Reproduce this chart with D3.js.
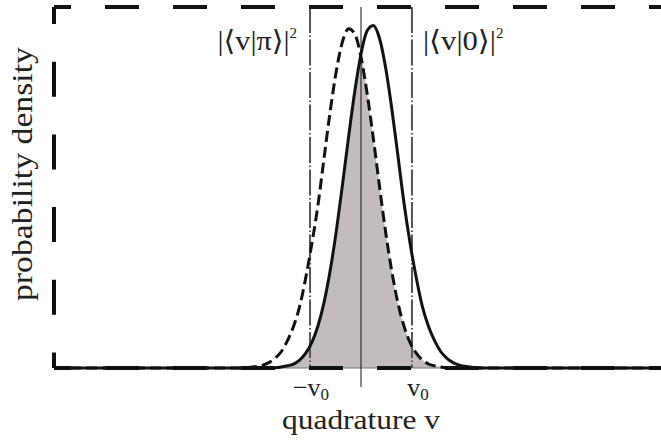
<!DOCTYPE html>
<html>
<head>
<meta charset="utf-8">
<script src="https://cdn.jsdelivr.net/npm/d3@7"></script>
<style>
body { margin: 0; background: #fff; }
svg text { font-family: "Liberation Serif", "DejaVu Serif", serif; fill: #222; }
</style>
</head>
<body>
<svg id="chart" width="661" height="441"></svg>
<script>
// quadrature grid and the two densities
const quadV = [-5, -2, -1.8, -1.6, -1.5, -1.4, -1.3, -1.2, -1.1, -1.0, -0.9, -0.8, -0.7, -0.6, -0.5, -0.4, -0.3, -0.2, -0.1,
    0, 0.1, 0.2, 0.3, 0.4, 0.5, 0.6, 0.7, 0.8, 0.9, 1.0, 1.1, 1.2, 1.3, 1.4, 1.5, 1.6, 1.8, 2, 5]
// |<v|0>|^2  (solid)
const densZero = [0, 0, 0, 0, 0, 0.001, 0.003, 0.006, 0.011, 0.022, 0.041, 0.071, 0.117, 0.183, 0.272, 0.382, 0.510, 0.643, 0.768,
    0.870, 0.934, 0.949, 0.914, 0.833, 0.720, 0.590, 0.457, 0.345, 0.250, 0.170, 0.115, 0.075, 0.045, 0.027, 0.015, 0.008, 0.002, 0, 0]
// |<v|pi>|^2  (dashed)
const densPi = [0, 0, 0.002, 0.008, 0.015, 0.027, 0.045, 0.075, 0.115, 0.170, 0.250, 0.345, 0.452, 0.584, 0.713, 0.825, 0.905, 0.940, 0.925,
    0.861, 0.760, 0.637, 0.505, 0.378, 0.269, 0.181, 0.116, 0.070, 0.041, 0.022, 0.011, 0.006, 0.003, 0.001, 0, 0, 0, 0, 0]
const v0 = 0.83
const xDomain = [-5, 5]
const yDomain = [0, 1]
const xLabel = "quadrature v"
const yLabel = "probability density"

const W = 661, H = 441
const margin = {left: 54, right: -7, top: 7, bottom: 73}

const svg = d3.select("#chart")
const x = d3.scaleLinear().domain(xDomain).range([margin.left, W - margin.right])
const y = d3.scaleLinear().domain(yDomain).range([H - margin.bottom, margin.top])

var rows = quadV.map((v, i) => ({v: v, a: densZero[i], b: densPi[i]}))

// overlap area, min of both densities
var area = d3.area()
    .x(d => x(d.v))
    .y0(y(0))
    .y1(d => y(Math.min(d.a, d.b)))
    .curve(d3.curveMonotoneX)
svg.append("path")
    .datum(rows)
    .attr("d", area)
    .attr("fill", "#c3bcbc")

// thin baseline
svg.append("line")
    .attr("x1", x(xDomain[0])).attr("x2", x(xDomain[1]))
    .attr("y1", y(0)).attr("y2", y(0))
    .attr("stroke", "#777").attr("stroke-width", 1)

// dash-dot cut lines at +-v0
for (let c of [-v0, v0]) {
    svg.append("line")
        .attr("x1", x(c)).attr("x2", x(c))
        .attr("y1", y(yDomain[1])).attr("y2", y(0))
        .attr("stroke", "#555").attr("stroke-width", 2)
        .attr("stroke-dasharray", "26,2.5,1.5,2.5")
}

// centre line
svg.append("line")
    .attr("x1", x(0)).attr("x2", x(0))
    .attr("y1", y(yDomain[1])).attr("y2", y(0) + 19)
    .attr("stroke", "#111").attr("stroke-width", 1)

// dashed frame
var frame = svg.append("g")
    .attr("stroke", "#111").attr("stroke-width", 4).attr("fill", "none")
frame.append("line")
    .attr("x1", x(xDomain[0])).attr("x2", x(xDomain[1]))
    .attr("y1", y(yDomain[1])).attr("y2", y(yDomain[1]))
    .attr("stroke-dasharray", "34,34").attr("stroke-dashoffset", 17)
frame.append("line")
    .attr("x1", x(xDomain[0])).attr("x2", x(xDomain[1]))
    .attr("y1", y(0)).attr("y2", y(0))
    .attr("stroke-dasharray", "34,34").attr("stroke-dashoffset", 17)
frame.append("line")
    .attr("x1", x(xDomain[0])).attr("x2", x(xDomain[0]))
    .attr("y1", y(yDomain[1])).attr("y2", y(0))
    .attr("stroke-dasharray", "35,37.7").attr("stroke-dashoffset", 18)

// curves
var lineB = d3.line().x(d => x(d.v)).y(d => y(d.b)).curve(d3.curveMonotoneX)
var lineA = d3.line().x(d => x(d.v)).y(d => y(d.a)).curve(d3.curveMonotoneX)
svg.append("path")
    .datum(rows)
    .attr("d", lineB)
    .attr("fill", "none").attr("stroke", "#111").attr("stroke-width", 3)
    .attr("stroke-dasharray", "11,5")
svg.append("path")
    .datum(rows)
    .attr("d", lineA)
    .attr("fill", "none").attr("stroke", "#111").attr("stroke-width", 3)

// curve labels
var labPi = svg.append("text")
    .attr("x", x(-v0) - 13).attr("y", 50)
    .attr("text-anchor", "end").style("font-size", "28px")
labPi.append("tspan").text("|\u27E8v|\u03C0\u27E9|")
    .attr("textLength", 72).attr("lengthAdjust", "spacingAndGlyphs")
labPi.append("tspan").text("2").style("font-size", "15px").attr("dy", -12)

var labZero = svg.append("text")
    .attr("x", x(v0) + 11).attr("y", 50)
    .style("font-size", "28px")
labZero.append("tspan").text("|\u27E8v|0\u27E9|")
    .attr("textLength", 73).attr("lengthAdjust", "spacingAndGlyphs")
labZero.append("tspan").text("2").style("font-size", "15px").attr("dy", -12)

// tick labels
var tk1 = svg.append("text")
    .attr("x", x(-v0) + 1).attr("y", y(0) + 28)
    .attr("text-anchor", "middle").style("font-size", "26px")
tk1.append("tspan").text("\u2212v")
tk1.append("tspan").text("0").style("font-size", "17px").attr("dy", 4)

var tk2 = svg.append("text")
    .attr("x", x(v0) + 6).attr("y", y(0) + 28)
    .attr("text-anchor", "middle").style("font-size", "26px")
tk2.append("tspan").text("v")
tk2.append("tspan").text("0").style("font-size", "17px").attr("dy", 4)

// axis labels
svg.append("text")
    .attr("x", x(0)).attr("y", 429)
    .attr("text-anchor", "middle").style("font-size", "28px")
    .attr("textLength", 158).attr("lengthAdjust", "spacingAndGlyphs")
    .text(xLabel)

svg.append("text")
    .attr("transform", "translate(32," + 174 + ") rotate(-90)")
    .attr("text-anchor", "middle").style("font-size", "30px")
    .attr("textLength", 254).attr("lengthAdjust", "spacingAndGlyphs")
    .text(yLabel)
</script>
</body>
</html>
